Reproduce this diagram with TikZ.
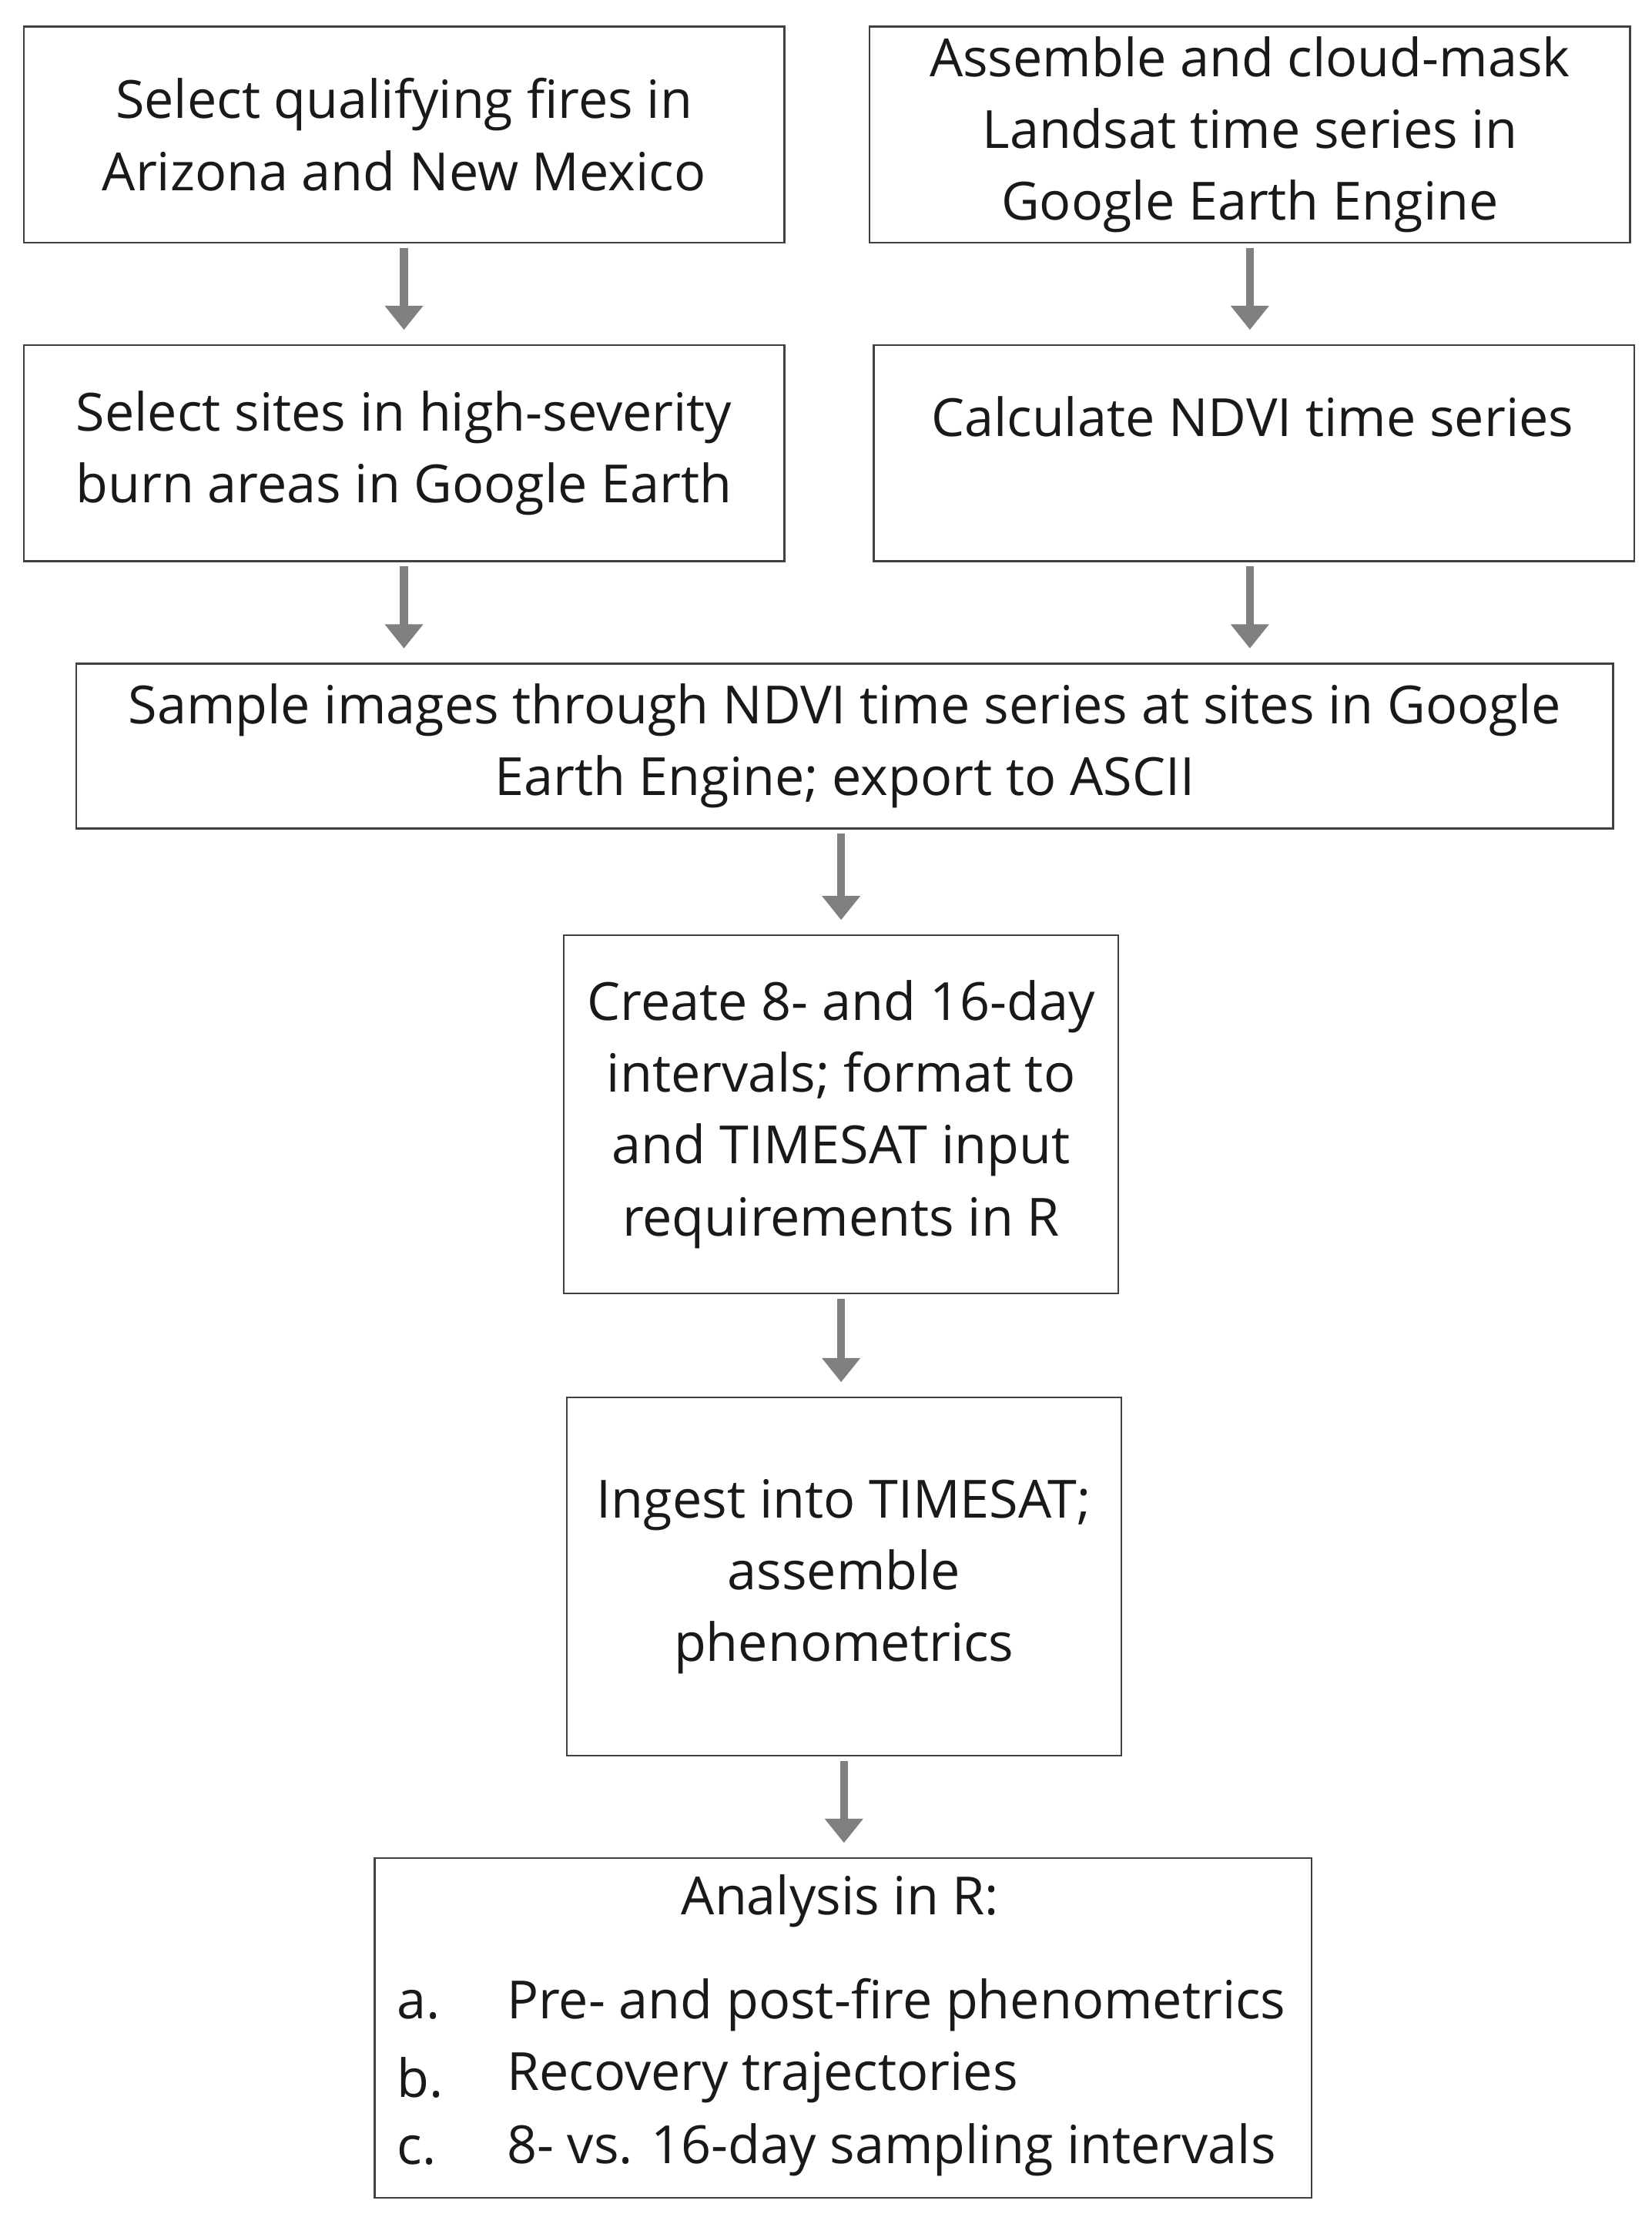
\documentclass[tikz,border=0pt]{standalone}
\usepackage{fontspec}
\setmainfont{Open Sans}
\usetikzlibrary{arrows.meta}
\begin{document}
\begin{tikzpicture}[x=1pt,y=-1pt,
  box/.style={draw=black!75,line width=1.3pt,rectangle,inner sep=0pt,anchor=north west},
  txt/.style={align=center,font=\fontsize{37}{50.5}\selectfont,text=black!90},
  arr/.style={draw=black!50,line width=5.5pt,-{Triangle[width=26pt,length=17pt]},shorten <=3pt,shorten >=10pt}]
\useasboundingbox (0,0) rectangle (1162,1564);
\fill[white] (0,0) rectangle (1162,1564);
\node[box,minimum width=535pt,minimum height=152pt] (b1) at (16,18) {};
\node[box,minimum width=535pt,minimum height=152pt] (b2) at (611,18) {};
\node[box,minimum width=535pt,minimum height=152pt] (b3) at (16,242) {};
\node[box,minimum width=535pt,minimum height=152pt] (b4) at (614,242) {};
\node[box,minimum width=1081pt,minimum height=116pt] (b5) at (53,466) {};
\node[box,minimum width=390pt,minimum height=252pt] (b6) at (396,657) {};
\node[box,minimum width=390pt,minimum height=252pt] (b7) at (398,982) {};
\node[box,minimum width=659pt,minimum height=239pt] (b8) at (263,1306) {};
\node[txt] (t1) at (b1.center) {Select qualifying fires in\\Arizona and New Mexico};
\node[txt] (t2) at (b2.center) {Assemble and cloud-mask\\Landsat time series in\\Google Earth Engine};
\node[txt] (t3) at (b3.center) {Select sites in high-severity\\burn areas in Google Earth};
\node[txt] (t4) at (881,293) {Calculate NDVI time series};
\node[txt] (t5) at (b5.center) {Sample images through NDVI time series at sites in Google\\Earth Engine; export to ASCII};
\node[txt] (t6) at (b6.center) {Create 8- and 16-day\\intervals; format to\\and TIMESAT input\\requirements in R};
\node[txt] (t7) at (b7.center) {Ingest into TIMESAT;\\assemble\\phenometrics};
\node[txt] (t8) at (591,1337) {Analysis in R:};
\node[txt,anchor=west] (la) at (276,1410) {a.};
\node[txt,anchor=west] (lb) at (276,1461) {b.};
\node[txt,anchor=west] (lc) at (276,1512) {c.};
\node[txt,anchor=west] (ia) at (353,1410) {Pre- and post-fire phenometrics};
\node[txt,anchor=west] (ib) at (353,1461) {Recovery trajectories};
\node[txt,anchor=west] (ic) at (353,1512) {8- vs. 16-day sampling intervals};
\draw[arr] (b1.south) -- (b3.north);
\draw[arr] (b2.south) -- (b2.south |- b4.north);
\draw[arr] (b3.south) -- (b3.south |- b5.north);
\draw[arr] (b4.south -| b2.south) -- (b2.south |- b5.north);
\draw[arr] (b5.south -| b6.north) -- (b6.north);
\draw[arr] (b6.south) -- (b6.south |- b7.north);
\draw[arr] (b7.south) -- (b7.south |- b8.north);
\end{tikzpicture}
\end{document}
